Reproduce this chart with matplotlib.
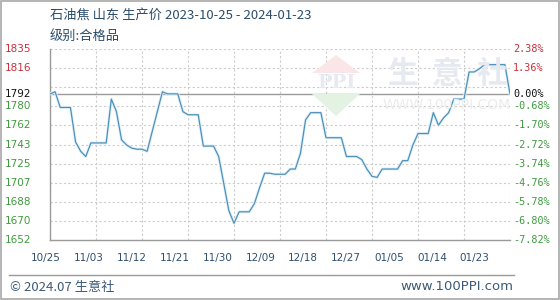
import numpy as np
import matplotlib
matplotlib.use("Agg")
import matplotlib.pyplot as plt
from matplotlib.patches import Polygon, Rectangle
from matplotlib.lines import Line2D

plt.rcParams['font.family'] = ['Noto Sans CJK SC', 'DejaVu Sans']

title = "石油焦 山东 生产价 2023-10-25 - 2024-01-23"
subtitle = "级别:合格品"
base_price = 1792

# daily prices 2023-10-25 .. 2024-01-23 (91 days)
prices = [1792, 1794, 1779, 1779, 1779, 1746, 1737, 1732, 1745, 1745,
          1745, 1745, 1787, 1775, 1748, 1743, 1740, 1739, 1739, 1737,
          1756, 1775, 1794, 1792, 1792, 1792, 1775, 1772, 1772, 1772,
          1742, 1742, 1742, 1732, 1706, 1680, 1668, 1679, 1679, 1679,
          1687, 1702, 1716, 1716, 1715, 1715, 1715, 1720, 1720, 1735,
          1767, 1774, 1774, 1774, 1750, 1750, 1750, 1750, 1732, 1732,
          1732, 1729, 1720, 1713, 1712, 1720, 1720, 1720, 1720, 1728,
          1728, 1743, 1754, 1754, 1754, 1774, 1762, 1769, 1774, 1787,
          1787, 1787, 1813, 1813, 1816, 1820, 1820, 1820, 1820, 1820,
          1792]

x_labels = ["10/25", "11/03", "11/12", "11/21", "11/30", "12/09",
            "12/18", "12/27", "01/05", "01/14", "01/23"]
left_labels = ["1652", "1670", "1688", "1707", "1725", "1743",
               "1762", "1780", "1792", "1816", "1835"]
right_labels = ["-7.82%", "-6.80%", "-5.78%", "-4.76%", "-3.74%", "-2.72%",
                "-1.70%", "-0.68%", "0.00%", "1.36%", "2.38%"]

y_min, y_max = 1652, 1835
days = np.arange(len(prices))

W, H = 560, 300
fig = plt.figure(figsize=(W / 100, H / 100), dpi=100)
fig.patch.set_facecolor("white")

ax = fig.add_axes([50 / W, 1 - 240 / H, 460 / W, 191 / H])
ax.set_xlim(0, len(prices) - 1)
ax.set_ylim(y_min, y_max)
ax.patch.set_alpha(0)

# grid
grid_levels = np.linspace(y_min, y_max, 11)
for gy in grid_levels:
    ax.axhline(gy, color="#cccccc", lw=0.8, ls=(0, (2, 2)), zorder=1)
for gx in np.arange(0, len(prices), 9):
    ax.axvline(gx, color="#cccccc", lw=0.8, ls=(0, (2, 2)), zorder=1)
ax.axhline(base_price, color="#9a9a9a", lw=1.0, zorder=2)

for s in ["top", "right"]:
    ax.spines[s].set_visible(False)
for s in ["left", "bottom"]:
    ax.spines[s].set_color("#9a9a9a")
    ax.spines[s].set_linewidth(1.0)

ax.plot(days, prices, color="#e2f1f8", lw=2.2, zorder=3, solid_joinstyle="round")
ax.plot(days, prices, color="#4f90bb", lw=0.9, zorder=4)

ax.set_xticks([])
ax.set_yticks([])

# y labels
tick_vals = list(grid_levels)
tick_vals[8] = base_price
for v, ll, rl in zip(tick_vals, left_labels, right_labels):
    if v > base_price:
        c = "#c8303a"
    elif v == base_price:
        c = "#111111"
    else:
        c = "#3f9a3f"
    ax.text(-45 / 460 * (len(prices) - 1), v, ll, color=c, fontsize=7.5,
            ha="left", va="center", family=["DejaVu Sans"])
    ax.text(1.007, (v - y_min) / (y_max - y_min), rl, color=c, fontsize=7.3,
            ha="left", va="center", transform=ax.transAxes,
            family=["DejaVu Sans Mono"])

# x labels (offset positions as in the reference)
label_pos = np.linspace(-0.8, 83.1, len(x_labels))
for p, t in zip(label_pos, x_labels):
    ax.text(p, y_min - 17, t, color="#2f4f6f", fontsize=7.5, ha="center",
            va="center", family=["DejaVu Sans"])

# watermark
def fx(px):
    return px / W

def fy(py):
    return 1 - py / H

fig.patches.append(Polygon([[fx(336), fy(55)], [fx(312), fy(73)], [fx(360), fy(73)]],
                           closed=True, transform=fig.transFigure,
                           facecolor="#fae6e6", edgecolor="none", zorder=0))
fig.patches.append(Polygon([[fx(312), fy(94)], [fx(360), fy(94)], [fx(336), fy(116)]],
                           closed=True, transform=fig.transFigure,
                           facecolor="#e4f2e4", edgecolor="none", zorder=0))
fig.text(fx(336), fy(83), "PPI", color="#e6eaf2", fontsize=14, fontweight="bold",
         ha="center", va="center", family=["DejaVu Serif"], zorder=0)
for cx, ch in zip([402, 447, 492], ["生", "意", "社"]):
    fig.text(fx(cx), fy(74), ch, color="#e6e9ef", fontsize=22, ha="center",
             va="center", fontweight="bold", zorder=0)
fig.text(fx(447), fy(105), "WWW.100PPI.COM", color="#ececec", fontsize=10,
         ha="center", va="center", family=["DejaVu Sans"], zorder=0)

# titles
fig.text(fx(50), fy(15), title, color="#2b4d6b", fontsize=9.5, ha="left", va="center")
fig.text(fx(50), fy(36), subtitle, color="#2b4d6b", fontsize=9.5, ha="left", va="center")

# footer
fig.lines.append(Line2D([fx(9), fx(514)], [fy(275), fy(275)], color="#9a9a9a",
                        lw=1.0, transform=fig.transFigure))
fig.text(fx(10), fy(287), "© 2024.07 生意社", color="#3d5a75", fontsize=9.5,
         ha="left", va="center")
fig.text(fx(513), fy(287), "www.100PPI.com", color="#3d5a75", fontsize=9.5,
         ha="right", va="center", family=["DejaVu Sans"])

# outer border
fig.patches.append(Rectangle((0.001, 0.002), 0.997, 0.995, transform=fig.transFigure,
                             fill=False, edgecolor="#a8a8a8", lw=1.2))

fig.savefig("out.png", dpi=100, facecolor="white")
